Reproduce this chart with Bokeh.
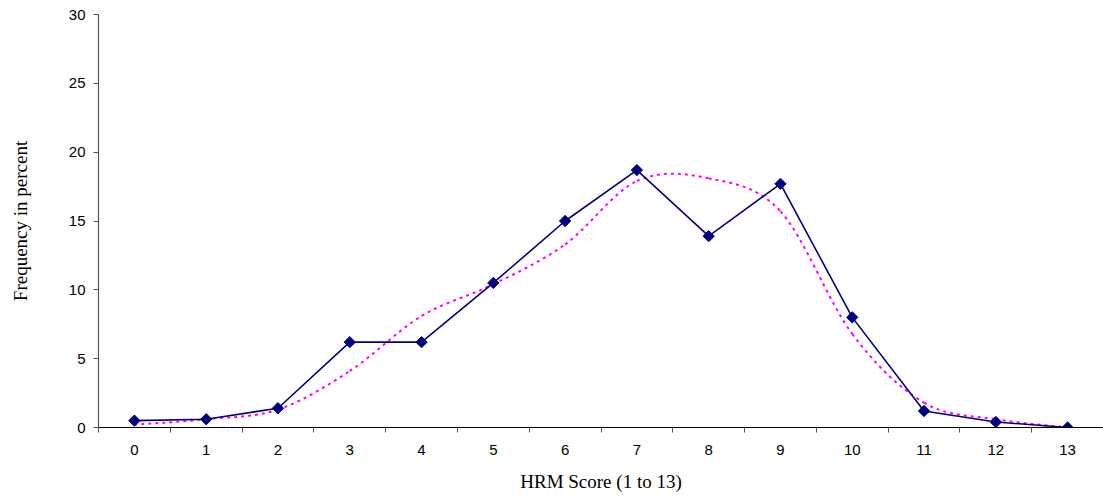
import math
from bokeh.plotting import figure
from bokeh.models import FixedTicker, ColumnDataSource
from bokeh.embed import file_html
from bokeh.resources import INLINE

# Data
scores = list(range(14))
tick_labels = [str(s) for s in scores]
observed = [0.5, 0.6, 1.4, 6.2, 6.2, 10.5, 15.0, 18.7, 13.9, 17.7, 8.0, 1.2, 0.4, 0.0]
expected = [0.2, 0.6, 1.3, 4.1, 8.1, 10.4, 13.3, 17.9, 18.1, 15.7, 6.8, 1.8, 0.6, 0.0]

NAVY = "#000080"
MAGENTA = "#FF00FF"

p = figure(width=1103, height=495, output_backend="svg", toolbar_location=None,
           x_range=(-0.5, 13.5), y_range=(0, 30),
           min_border_left=98, min_border_right=0, min_border_top=14, min_border_bottom=68)
p.outline_line_color = None
p.grid.visible = False
p.background_fill_color = "white"

# smoothed (Excel-style Catmull-Rom) line for the expected series
n = len(scores)
x0, y0, x1, y1, cx0, cy0, cx1, cy1 = [], [], [], [], [], [], [], []
for i in range(n - 1):
    xm = scores[i - 1] if i > 0 else scores[i]
    ym = expected[i - 1] if i > 0 else expected[i]
    xp2 = scores[i + 2] if i + 2 < n else scores[i + 1]
    yp2 = expected[i + 2] if i + 2 < n else expected[i + 1]
    x0.append(scores[i]); y0.append(expected[i])
    x1.append(scores[i + 1]); y1.append(expected[i + 1])
    cx0.append(scores[i] + (scores[i + 1] - xm) / 6)
    cy0.append(expected[i] + (expected[i + 1] - ym) / 6)
    cx1.append(scores[i + 1] - (xp2 - scores[i]) / 6)
    cy1.append(expected[i + 1] - (yp2 - expected[i]) / 6)
bsrc = ColumnDataSource(dict(x0=x0, y0=y0, x1=x1, y1=y1, cx0=cx0, cy0=cy0, cx1=cx1, cy1=cy1))
p.bezier(x0="x0", y0="y0", x1="x1", y1="y1", cx0="cx0", cy0="cy0", cx1="cx1", cy1="cy1",
         source=bsrc, line_color=MAGENTA, line_width=2, line_dash="3 4")

src = ColumnDataSource(dict(x=scores, y=observed))
p.line("x", "y", source=src, line_color=NAVY, line_width=1.6)
p.scatter("x", "y", source=src, marker="square", angle=math.pi / 4, size=8,
          fill_color=NAVY, line_color=NAVY)

# X axis: labels at category centers, ticks at boundaries
xax = p.xaxis[0]
xax.ticker = FixedTicker(ticks=scores, minor_ticks=[s - 0.5 for s in scores] + [13.5])
xax.major_label_overrides = {s: l for s, l in zip(scores, tick_labels)}
xax.major_tick_out = 0
xax.major_tick_in = 0
xax.minor_tick_out = 5
xax.minor_tick_in = 0
xax.minor_tick_line_color = "#555555"
xax.axis_line_color = "black"
xax.axis_line_width = 1.2
xax.major_label_text_font = "Liberation Sans"
xax.major_label_text_font_size = "15px"
xax.major_label_text_color = "black"
xax.major_label_standoff = 12
xax.axis_label = "HRM Score (1 to 13)"
xax.axis_label_text_font = "Liberation Serif"
xax.axis_label_text_font_style = "normal"
xax.axis_label_text_font_size = "19px"
xax.axis_label_text_color = "black"
xax.axis_label_standoff = 13

yax = p.yaxis[0]
yax.ticker = FixedTicker(ticks=[0, 5, 10, 15, 20, 25, 30], minor_ticks=[])
yax.major_tick_out = 5
yax.major_tick_in = 0
yax.major_tick_line_color = "#555555"
yax.axis_line_color = "#555555"
yax.axis_line_width = 1.2
yax.major_label_text_font = "Liberation Sans"
yax.major_label_text_font_size = "15px"
yax.major_label_text_color = "black"
yax.major_label_standoff = 8
yax.axis_label = "Frequency in percent"
yax.axis_label_text_font = "Liberation Serif"
yax.axis_label_text_font_style = "normal"
yax.axis_label_text_font_size = "19px"
yax.axis_label_text_color = "black"
yax.axis_label_standoff = 35

open("out.html", "w").write(file_html(p, INLINE))
